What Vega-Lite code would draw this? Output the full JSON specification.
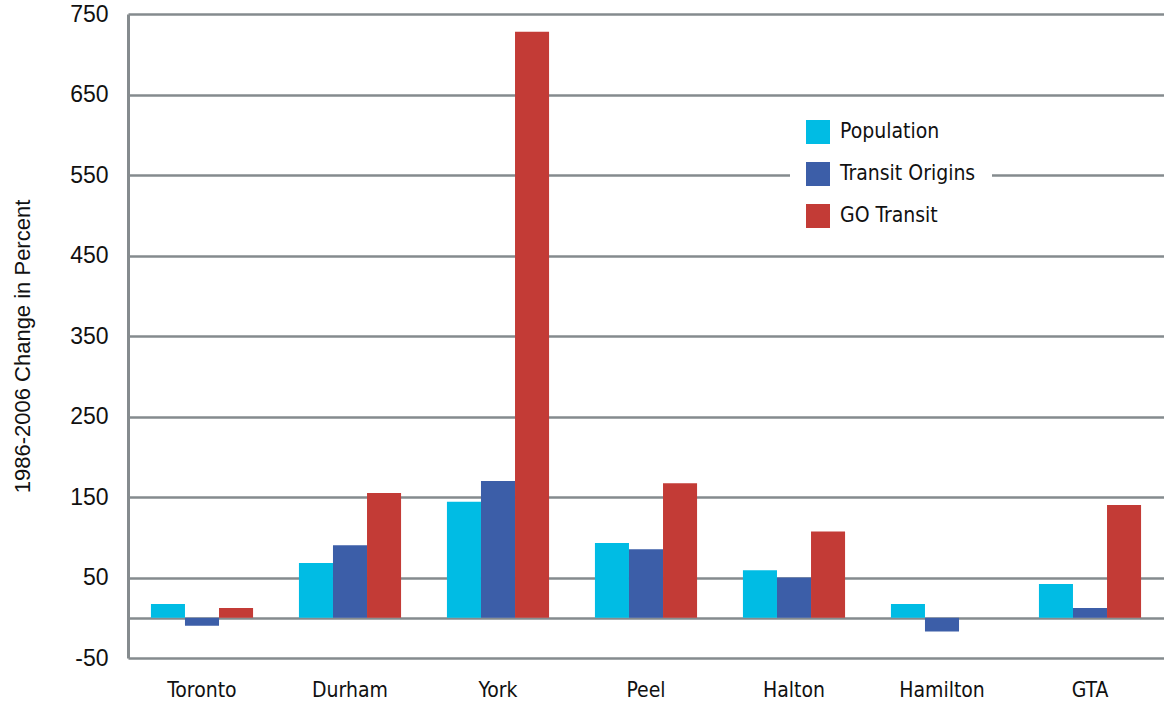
{
  "$schema": "https://vega.github.io/schema/vega-lite/v6.json",
  "width": 1036,
  "height": 644,
  "autosize": {"type": "none"},
  "padding": {"left": 128, "top": 14, "right": 0, "bottom": 47},
  "background": "white",
  "config": {
    "view": {"stroke": null},
    "font": "Liberation Sans"
  },
  "data": {
    "values": [
      {"region": "Toronto", "measure": "Population", "change": 17},
      {"region": "Toronto", "measure": "Transit Origins", "change": -10},
      {"region": "Toronto", "measure": "GO Transit", "change": 12},
      {"region": "Durham", "measure": "Population", "change": 68},
      {"region": "Durham", "measure": "Transit Origins", "change": 90},
      {"region": "Durham", "measure": "GO Transit", "change": 155},
      {"region": "York", "measure": "Population", "change": 144},
      {"region": "York", "measure": "Transit Origins", "change": 170},
      {"region": "York", "measure": "GO Transit", "change": 728},
      {"region": "Peel", "measure": "Population", "change": 93},
      {"region": "Peel", "measure": "Transit Origins", "change": 85},
      {"region": "Peel", "measure": "GO Transit", "change": 167},
      {"region": "Halton", "measure": "Population", "change": 59},
      {"region": "Halton", "measure": "Transit Origins", "change": 50},
      {"region": "Halton", "measure": "GO Transit", "change": 107},
      {"region": "Hamilton", "measure": "Population", "change": 17},
      {"region": "Hamilton", "measure": "Transit Origins", "change": -17},
      {"region": "GTA", "measure": "Population", "change": 42},
      {"region": "GTA", "measure": "Transit Origins", "change": 12},
      {"region": "GTA", "measure": "GO Transit", "change": 140}
    ]
  },
  "mark": {"type": "bar"},
  "encoding": {
    "x": {
      "field": "region",
      "type": "nominal",
      "sort": ["Toronto", "Durham", "York", "Peel", "Halton", "Hamilton", "GTA"],
      "scale": {"paddingInner": 0.31, "paddingOuter": 0.155},
      "axis": {
        "title": null,
        "domain": false,
        "ticks": false,
        "grid": false,
        "labelAngle": 0,
        "labelFont": "DejaVu Sans Condensed, Liberation Sans, sans-serif",
        "labelFontSize": 21,
        "labelColor": "#111111",
        "labelPadding": 21
      }
    },
    "xOffset": {
      "field": "measure",
      "type": "nominal",
      "sort": ["Population", "Transit Origins", "GO Transit"],
      "scale": {"paddingInner": 0, "paddingOuter": 0}
    },
    "y": {
      "field": "change",
      "type": "quantitative",
      "scale": {"domain": [-50, 750], "nice": false, "zero": true},
      "axis": {
        "title": "1986-2006 Change in Percent",
        "titleFont": "Liberation Sans",
        "titleFontSize": 22,
        "titleFontWeight": "normal",
        "titleColor": "#111111",
        "titleX": -106,
        "titleY": 332,
        "titleAlign": "center",
        "titleBaseline": "middle",
        "values": [-50, 0, 50, 150, 250, 350, 450, 550, 650, 750],
        "labelExpr": "datum.value == 0 ? '' : toString(datum.value)",
        "labelFontSize": 23,
        "labelColor": "#111111",
        "labelPadding": 20,
        "ticks": false,
        "domain": true,
        "domainColor": "#858b8e",
        "domainWidth": 3,
        "grid": true,
        "gridColor": "#858b8e",
        "gridWidth": 2.6,
        "gridOpacity": 1
      }
    },
    "color": {
      "field": "measure",
      "type": "nominal",
      "sort": ["Population", "Transit Origins", "GO Transit"],
      "scale": {
        "domain": ["Population", "Transit Origins", "GO Transit"],
        "range": ["#00bce4", "#3c5ea8", "#c33b36"]
      },
      "legend": {
        "title": null,
        "orient": "none",
        "legendX": 662,
        "legendY": 90,
        "fillColor": "white",
        "padding": 16,
        "symbolType": "square",
        "symbolSize": 576,
        "symbolStrokeWidth": 0,
        "symbolOpacity": 1,
        "labelFont": "DejaVu Sans Condensed, Liberation Sans, sans-serif",
        "labelFontSize": 21,
        "labelColor": "#111111",
        "labelOffset": 10,
        "rowPadding": 18
      }
    }
  }
}
